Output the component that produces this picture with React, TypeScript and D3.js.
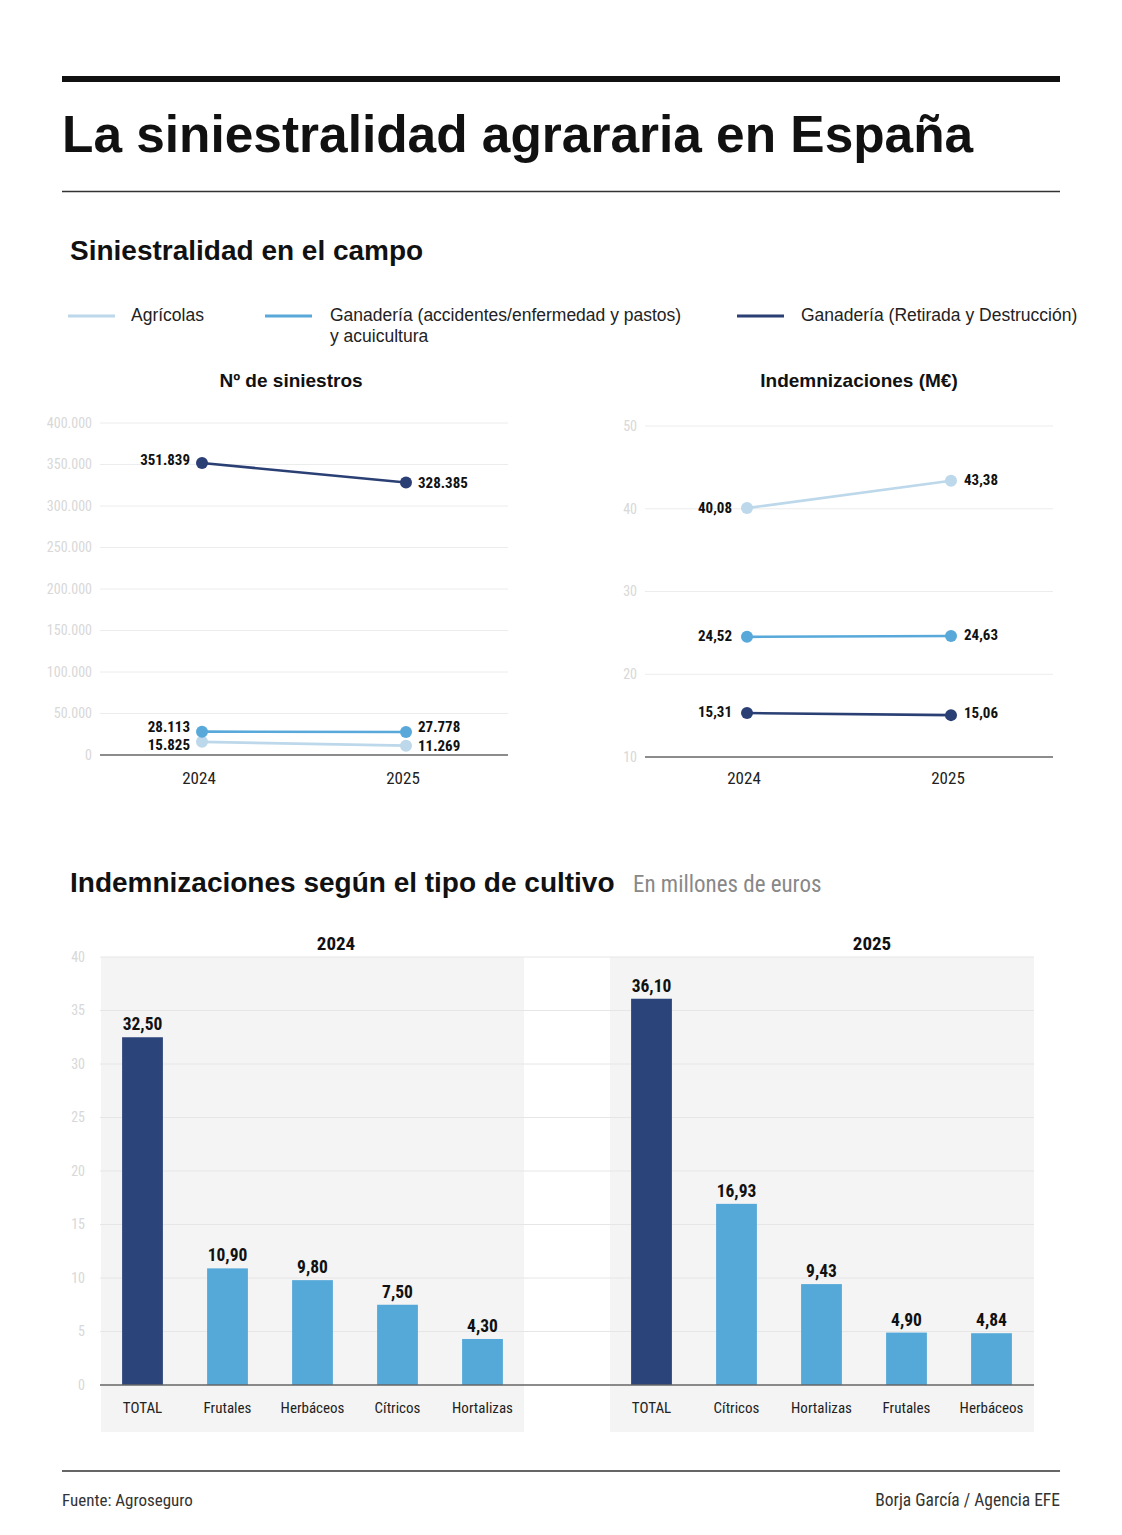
import * as d3 from "d3";

// ---- data ----
const YEARS = ["2024", "2025"];
const SERIES = ["Agrícolas", "Ganadería (accidentes/enfermedad y pastos)", "Ganadería (Retirada y Destrucción)"];
const SINIESTROS = [
  [15825, 11269],
  [28113, 27778],
  [351839, 328385],
];
const INDEMNIZACIONES = [
  [40.08, 43.38],
  [24.52, 24.63],
  [15.31, 15.06],
];
const SIN_TICKS = [0, 50000, 100000, 150000, 200000, 250000, 300000, 350000, 400000];
const IND_TICKS = [10, 20, 30, 40, 50];

const CAT_2024 = ["TOTAL", "Frutales", "Herbáceos", "Cítricos", "Hortalizas"];
const VAL_2024 = [32.5, 10.9, 9.8, 7.5, 4.3];
const CAT_2025 = ["TOTAL", "Cítricos", "Hortalizas", "Frutales", "Herbáceos"];
const VAL_2025 = [36.1, 16.93, 9.43, 4.9, 4.84];
const BAR_TICKS = [0, 5, 10, 15, 20, 25, 30, 35, 40];

// ---- style ----
const COLORS = ["#bcd8ea", "#58a9da", "#2a3f73"];
const NAVY = "#2b4479";
const LIGHT = "#55a9d9";
const SANS = "'Liberation Sans', Arial, Helvetica, sans-serif";
const NARROW = "'Liberation Sans Narrow', 'Arial Narrow', 'Roboto Condensed', sans-serif";

const fmtThousands = (v: number) => d3.format(",")(v).replace(/,/g, ".");
const fmtDec = (v: number) => d3.format(".2f")(v).replace(".", ",");

// label vertical nudges (px), per series / year
const SIN_DY = [[3, 0], [-5, -5], [-3, 0]];
const IND_DY = [[0, -1], [-1, -1], [-1, -2]];

function LineChart({ title, cx, x0, x1, yTop, yBot, domain, ticks, data, tickFmt, valFmt, dys, labelGap }: any) {
  const x = d3.scalePoint<string>().domain(YEARS).range([x0, x1]).padding(0.5);
  const y = d3.scaleLinear().domain(domain).range([yBot, yTop]);
  const line = d3.line<number>().x((_, i) => x(YEARS[i])!).y(d => y(d));
  return (
    <g>
      <text x={cx} y={387} textAnchor="middle" fontFamily={SANS} fontWeight="bold" fontSize={19} fill="#111">{title}</text>
      {ticks.map((t: number) => (
        <g key={t}>
          {t !== domain[0] && <line x1={x0} x2={x1} y1={y(t)} y2={y(t)} stroke="#ececec" strokeWidth={1} />}
          <text x={x0 - 8} y={y(t)} dy="0.35em" textAnchor="end" fontFamily={NARROW} fontSize={14} fill="#d8d8d8">{tickFmt(t)}</text>
        </g>
      ))}
      <line x1={x0} x2={x1} y1={yBot} y2={yBot} stroke="#666" strokeWidth={1.5} />
      {YEARS.map(yr => (
        <text key={yr} x={x(yr)! - 3} y={784} textAnchor="middle" fontFamily={NARROW} fontSize={17} fill="#222">{yr}</text>
      ))}
      {data.map((vals: number[], si: number) => (
        <g key={si}>
          <path d={line(vals)!} fill="none" stroke={COLORS[si]} strokeWidth={2.6} />
          {vals.map((v, i) => (
            <g key={i}>
              <circle cx={x(YEARS[i])} cy={y(v)} r={6} fill={COLORS[si]} />
              <text x={x(YEARS[i])! + (i === 0 ? -labelGap[0] : labelGap[1])} y={y(v) + dys[si][i]} dy="0.35em"
                textAnchor={i === 0 ? "end" : "start"} fontFamily={NARROW} fontWeight="bold" fontSize={15} fill="#111">
                {valFmt(v)}
              </text>
            </g>
          ))}
        </g>
      ))}
    </g>
  );
}

function BarPanel({ x0, titleX, year, cats, vals }: any) {
  const W = 425;
  const xb = d3.scaleBand<string>().domain(cats).range([x0, x0 + W]).paddingInner(0.52).paddingOuter(0.26);
  const y = d3.scaleLinear().domain([0, 40]).range([1385, 957]);
  return (
    <g>
      <text x={titleX} y={950} textAnchor="middle" fontFamily={NARROW} fontWeight="bold" fontSize={19} fill="#111">{year}</text>
      {cats.map((c: string, i: number) => (
        <g key={c}>
          <rect x={xb(c)} y={y(vals[i])} width={xb.bandwidth()} height={y(0) - y(vals[i])} fill={c === "TOTAL" ? NAVY : LIGHT} />
          <text x={xb(c)! + xb.bandwidth() / 2} y={y(vals[i]) - 7} textAnchor="middle" fontFamily={NARROW} fontWeight="bold" fontSize={17.5} fill="#111">{fmtDec(vals[i])}</text>
          <text x={xb(c)! + xb.bandwidth() / 2} y={1413} textAnchor="middle" fontFamily={NARROW} fontSize={15} fill="#222">{c}</text>
        </g>
      ))}
    </g>
  );
}

export default function App() {
  const yb = d3.scaleLinear().domain([0, 40]).range([1385, 957]);
  return (
    <div style={{ position: "absolute", left: 0, top: 0 }}>
      <svg width={1122} height={1535} style={{ display: "block", background: "#fff" }}>
        <rect x={62} y={76} width={998} height={6} fill="#111" />
        <text x={62} y={152} fontFamily={SANS} fontWeight="bold" fontSize={51.4} fill="#111">La siniestralidad agrararia en España</text>
        <line x1={62} x2={1060} y1={191.5} y2={191.5} stroke="#333" strokeWidth={1.5} />

        <text x={70} y={260} fontFamily={SANS} fontWeight="bold" fontSize={28} fill="#111">Siniestralidad en el campo</text>

        {/* legend */}
        {[{ x: 68, tx: 131 }, { x: 265, tx: 330 }, { x: 737, tx: 801 }].map((p, i) => (
          <g key={i}>
            <line x1={p.x} x2={p.x + 47} y1={316} y2={316} stroke={COLORS[i]} strokeWidth={3} />
            <text x={p.tx} y={321} fontFamily={SANS} fontSize={17.5} fill="#222">{SERIES[i]}</text>
          </g>
        ))}
        <text x={330} y={342} fontFamily={SANS} fontSize={17.5} fill="#222">y acuicultura</text>

        <LineChart title="Nº de siniestros" cx={291} x0={100} x1={508} yTop={423} yBot={755}
          domain={[0, 400000]} ticks={SIN_TICKS} data={SINIESTROS}
          tickFmt={(t: number) => (t === 0 ? "0" : fmtThousands(t))} valFmt={fmtThousands} dys={SIN_DY} labelGap={[12, 12]} />
        <LineChart title="Indemnizaciones (M€)" cx={859} x0={645} x1={1053} yTop={426} yBot={757}
          domain={[10, 50]} ticks={IND_TICKS} data={INDEMNIZACIONES}
          tickFmt={(t: number) => String(t)} valFmt={fmtDec} dys={IND_DY} labelGap={[15, 13]} />

        {/* bar section */}
        <text x={70} y={892} fontFamily={SANS} fontWeight="bold" fontSize={28} fill="#111">Indemnizaciones según el tipo de cultivo</text>
        <text x={633} y={892} fontFamily={NARROW} fontSize={23} fill="#888">En millones de euros</text>

        <rect x={101} y={957} width={423} height={475} fill="#f4f4f4" />
        <rect x={610} y={957} width={424} height={475} fill="#f4f4f4" />
        {BAR_TICKS.map(t => (
          <g key={t}>
            {t !== 0 && <line x1={100} x2={1034} y1={yb(t)} y2={yb(t)} stroke="#e6e6e6" strokeWidth={1} />}
            <text x={85} y={yb(t)} dy="0.35em" textAnchor="end" fontFamily={NARROW} fontSize={14} fill="#d8d8d8">{t}</text>
          </g>
        ))}
        <BarPanel x0={100} titleX={336} year="2024" cats={CAT_2024} vals={VAL_2024} />
        <BarPanel x0={609} titleX={872} year="2025" cats={CAT_2025} vals={VAL_2025} />
        <line x1={100} x2={1034} y1={1385} y2={1385} stroke="#666" strokeWidth={1.5} />

        <line x1={62} x2={1060} y1={1471} y2={1471} stroke="#333" strokeWidth={1.5} />
        <text x={62} y={1506} fontFamily={NARROW} fontSize={17} fill="#333">Fuente: Agroseguro</text>
        <text x={1060} y={1506} textAnchor="end" fontFamily={NARROW} fontSize={17.5} fill="#333">Borja García / Agencia EFE</text>
      </svg>
    </div>
  );
}
